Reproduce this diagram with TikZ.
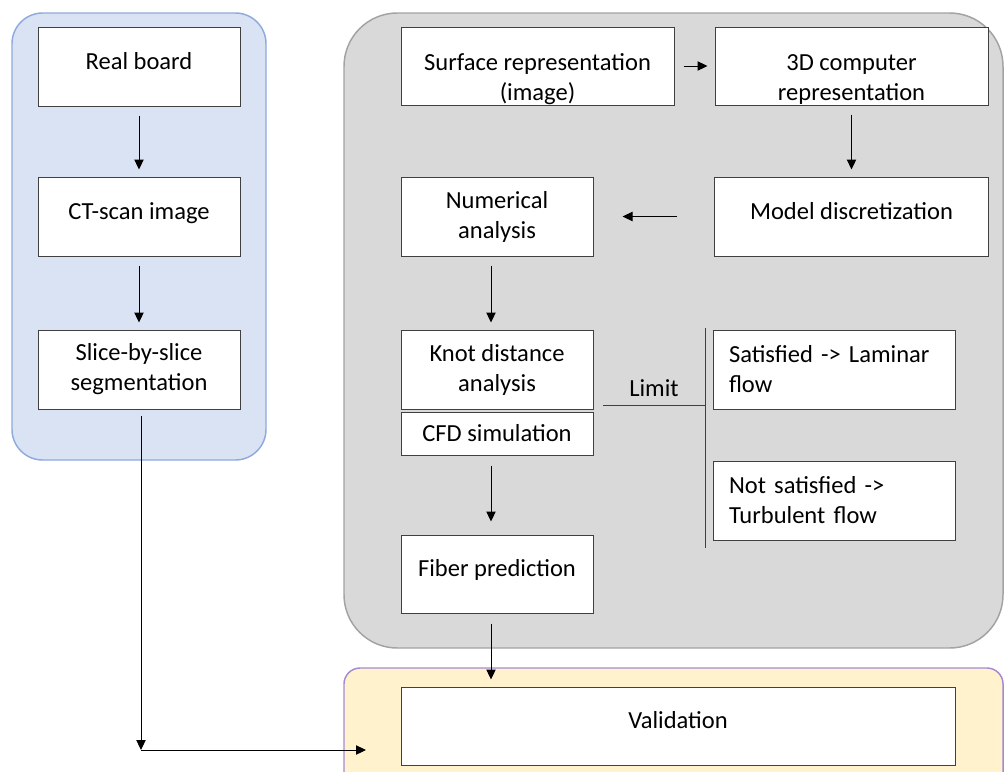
\documentclass[tikz,border=0pt]{standalone}
\usepackage{fontspec}
\setmainfont{Carlito}
\usetikzlibrary{arrows.meta}

\definecolor{bluefill}{HTML}{DAE3F3}
\definecolor{blueline}{HTML}{8FAADC}
\definecolor{grayfill}{HTML}{D9D9D9}
\definecolor{grayline}{HTML}{A3A3A3}
\definecolor{yellowfill}{HTML}{FFF2CC}
\definecolor{purpleline}{HTML}{A48AD4}
\definecolor{boxline}{HTML}{404040}

\tikzset{
  box/.style={draw=boxline, line width=0.75pt, fill=white, align=center,
    minimum height=59.25pt, font=\fontsize{18.4}{22.5}\selectfont},
  oneline/.style={box, text height=13pt, text depth=9pt},
  lowtext/.style={box, text height=51.8pt, text depth=0pt, inner ysep=0pt},
  leftbox/.style={box, align=left, text width=157.5pt, inner xsep=12pt},
  flow/.style={-{Triangle[length=7.5pt,width=7pt]}, line width=0.75pt,
    shorten <=6.75pt, shorten >=5.25pt},
  group/.style={line width=1.1pt}
}

\begin{document}
\begin{tikzpicture}[x=0.75pt, y=-0.75pt]
  \useasboundingbox (0,0) rectangle (1005,771);

  % grouping panels
  \draw[group, draw=blueline, fill=bluefill, rounded corners=23pt]
    (12,13) rectangle (266,460);
  \draw[group, draw=grayline, fill=grayfill, rounded corners=40pt]
    (344,13) rectangle (1003,648);
  \draw[group, draw=purpleline, fill=yellowfill, rounded corners=12pt]
    (344,668) rectangle (1003,800);

  % left column
  \node[oneline, minimum width=151.5pt] (real) at (139,66.5) {Real board};
  \node[oneline, minimum width=151.5pt] (ctscan) at (139,216.5) {CT-scan image};
  \node[box, minimum width=151.5pt] (slice) at (139,369.5) {Slice-by-slice\\segmentation};

  % simulation steps
  \node[lowtext, minimum width=204.75pt, minimum height=58.5pt] (surface) at (537.5,66) {Surface representation\\(image)};
  \node[lowtext, minimum width=204.75pt, minimum height=58.5pt] (comp) at (851.5,66) {3D computer\\representation};
  \node[oneline, minimum width=205.5pt] (model) at (851.5,216.5) {Model discretization};
  \node[box, minimum width=144pt] (numer) at (497,216.5) {Numerical\\analysis};
  \node[box, minimum width=144pt] (knot) at (497,369.5) {Knot distance\\analysis};
  \node[box, minimum width=144pt, minimum height=32.25pt] (cfd) at (497,433.5) {CFD simulation};
  \node[oneline, minimum width=144pt, minimum height=58.5pt] (fiber) at (497,574) {Fiber prediction};
  \node[leftbox] (laminar) at (834,369.5) {Satisfied -> Laminar\\flow};
  \node[leftbox] (turb) at (834,500.5) {Not satisfied ->\\Turbulent flow};

  \node[oneline, minimum width=415.5pt, minimum height=58.5pt] (valid) at (678,726) {Validation};

  \coordinate (limstart) at (603,405);
  \coordinate (bartop) at (705,328);
  \coordinate (barbot) at (705,548);
  \coordinate (corner) at (141,750);
  \coordinate (valin) at (366,750);

  \begin{scope}[flow]
    \draw (real) to (ctscan);
    \draw (ctscan) to (slice);
    \draw (surface) to (comp);
    \draw (comp) to (model);
    \draw[shorten <=27.75pt, shorten >=21.75pt] (model) to (numer);
    \draw ([xshift=-4.5pt]numer.south) to ([xshift=-4.5pt]knot.north);
    \draw[shorten <=7.5pt, shorten >=9.75pt] ([xshift=-4.5pt]cfd.south) to ([xshift=-4.5pt]fiber.north);
    \draw[shorten <=7.5pt] ([xshift=-4.5pt]fiber.south) to ([xshift=-4.5pt]fiber.south |- valid.north);
    \draw[shorten <=4.5pt, shorten >=0pt] (slice.south -| corner) to (corner);
    \draw[shorten <=0pt, shorten >=0pt] (corner) to (valin);
  \end{scope}

  % limit split
  \draw[draw=boxline, line width=0.75pt] (bartop) -- (barbot);
  \draw[draw=boxline, line width=0.75pt] (limstart) -- (limstart -| bartop)
    node[midway, above=2.5pt, font=\fontsize{18.4}{22.5}\selectfont] {Limit};
\end{tikzpicture}
\end{document}
